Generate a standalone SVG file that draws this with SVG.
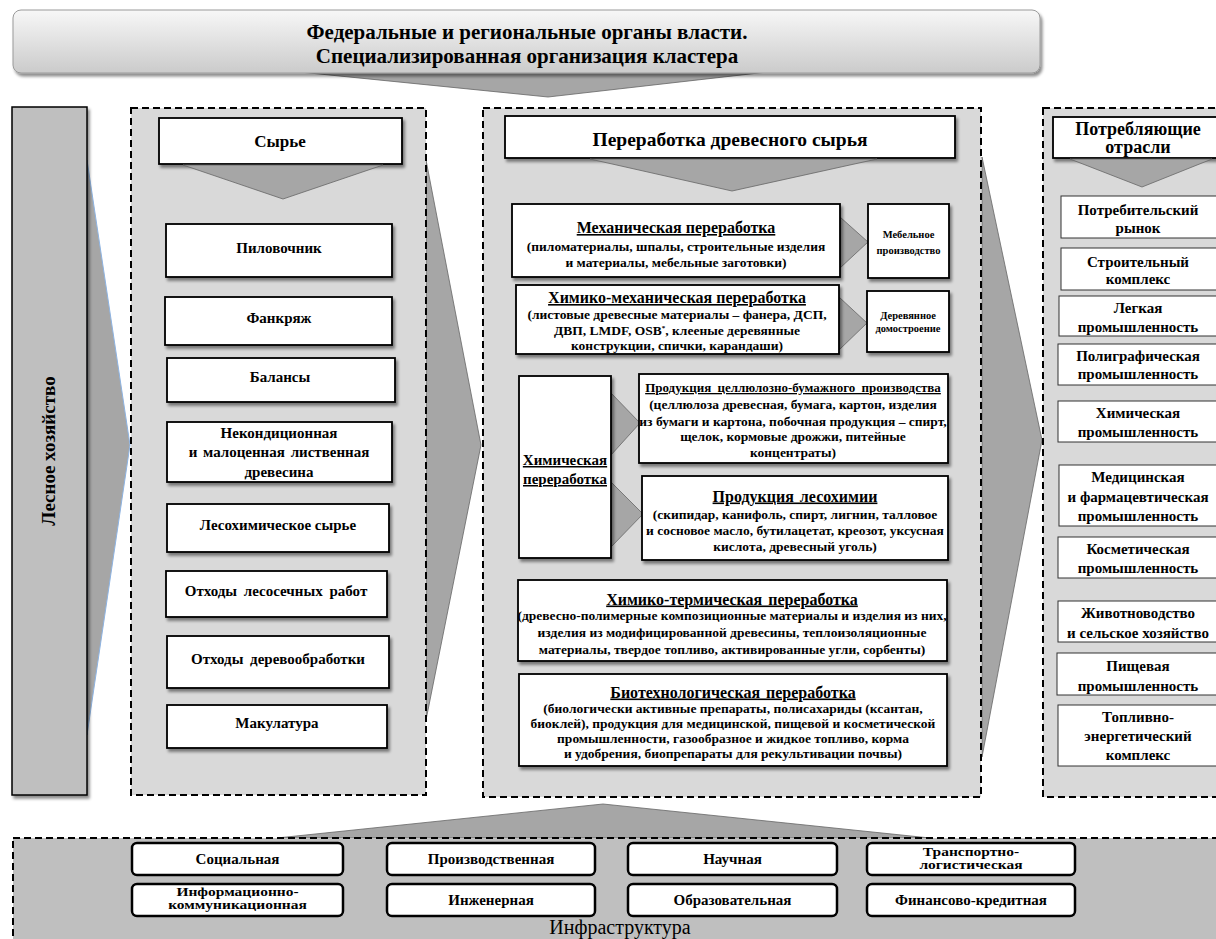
<svg xmlns="http://www.w3.org/2000/svg" width="1216" height="939" viewBox="0 0 1216 939" font-family="'Liberation Serif','Times New Roman',serif">
<defs>
<linearGradient id="hdr" x1="0" y1="0" x2="0" y2="1">
<stop offset="0" stop-color="#f7f7f7"/>
<stop offset="1" stop-color="#cbcbcb"/>
</linearGradient>
<filter id="sh" x="-10%" y="-10%" width="125%" height="130%">
<feDropShadow dx="2" dy="3" stdDeviation="1.8" flood-color="#000" flood-opacity="0.45"/>
</filter>
<style>
text{font-family:"Liberation Serif","Times New Roman",serif;font-weight:bold;text-anchor:middle;fill:#000}
.box{fill:#fff;stroke:#000;stroke-width:1.8;filter:url(#sh)}
.rbox{fill:#fff;stroke:#333;stroke-width:1}
.ibox{fill:#fff;stroke:#000;stroke-width:2.5}
.col{fill:#d9d9d9;stroke:#000;stroke-width:2;stroke-dasharray:7 4}
.tri{fill:#a6a6a6;stroke:#666;stroke-width:0.8}
.t21{font-size:21px}
.t19{font-size:19.5px}
.t18{font-size:18px}
.t17{font-size:17px}
.t16{font-size:16px}
.t15{font-size:15px}
.t12{font-size:13.5px}
.t10{font-size:10.5px}
.t2l{font-size:15.5px}
.u{text-decoration:underline}
</style>
</defs>

<!-- connectors / arrows -->
<g id="connectors">
<polygon class="tri" points="240,66 820,66 548,97"/>
<polygon points="87,160 130,445 87,735" fill="#a6a6a6" stroke="#8db3e2" stroke-width="1"/>
<polygon class="tri" points="426,160 481,445 426,720"/>
<polygon class="tri" points="982,157 1042,440 982,757"/>
<polygon class="tri" points="277,838 603,804 930,838"/>
</g>

<!-- top header -->
<g id="authorities">
<rect x="13" y="10" width="1027" height="63" rx="8" fill="url(#hdr)" stroke="#9a9a9a" stroke-width="1" filter="url(#sh)"/>
<text class="t21" x="527" y="39">Федеральные и региональные органы власти.</text>
<text class="t21" x="527" y="63">Специализированная организация кластера</text>
</g>

<!-- left bar -->
<g id="forestry">
<rect x="12" y="107" width="75" height="688" fill="#bfbfbf" stroke="#000" stroke-width="1.5" filter="url(#sh)"/>
<text font-size="19" transform="translate(55,451) rotate(-90)">Лесное хозяйство</text>
</g>

<!-- raw materials column -->
<g id="raw">
<rect class="col" x="131" y="108" width="295" height="687"/>
<rect class="box" x="159" y="118" width="243" height="46"/>
<text class="t17" x="280" y="147">Сырье</text>
<polygon class="tri" points="183,165 383,165 283,199"/>
</g>
<g id="raw-1"><rect class="box" x="166" y="224" width="226" height="53"/><text class="t15" x="279" y="253">Пиловочник</text></g>
<g id="raw-2"><rect class="box" x="165" y="297" width="227" height="48"/><text class="t15" x="279" y="323">Фанкряж</text></g>
<g id="raw-3"><rect class="box" x="167" y="358" width="228" height="44"/><text class="t15" x="280" y="382">Балансы</text></g>
<g id="raw-4"><rect class="box" x="167" y="422" width="225" height="60"/>
<text class="t15" x="279" y="438">Некондиционная</text>
<text class="t15" x="279" y="457" word-spacing="2">и малоценная лиственная</text>
<text class="t15" x="279" y="477">древесина</text></g>
<g id="raw-5"><rect class="box" x="167" y="504" width="222" height="48"/><text class="t15" x="278" y="530">Лесохимическое сырье</text></g>
<g id="raw-6"><rect class="box" x="166" y="571" width="221" height="46"/><text class="t15" x="276" y="596" word-spacing="3">Отходы лесосечных работ</text></g>
<g id="raw-7"><rect class="box" x="167" y="636" width="222" height="52"/><text class="t15" x="278" y="664" word-spacing="3">Отходы деревообработки</text></g>
<g id="raw-8"><rect class="box" x="167" y="705" width="220" height="43"/><text class="t15" x="277" y="728">Макулатура</text></g>

<!-- processing column -->
<g id="processing">
<rect class="col" x="483" y="108" width="498" height="689"/>
<rect class="box" x="505" y="116" width="450" height="42"/>
<text class="t19" x="730" y="146">Переработка древесного сырья</text>
<polygon class="tri" points="590,159 877,159 732,191"/>
</g>
<g id="conn-inner">
<polygon class="tri" points="840,217 868,242 840,268"/>
<polygon class="tri" points="839,297 867,323 839,350"/>
<polygon class="tri" points="611,393 640,423 611,455"/>
<polygon class="tri" points="611,482 643,514 611,547"/>
</g>
<g id="mech"><rect class="box" x="512" y="204" width="328" height="73"/>
<text class="t16 u" x="676" y="233">Механическая переработка</text>
<text class="t12" x="676" y="251">(пиломатериалы, шпалы, строительные изделия</text>
<text class="t12" x="676" y="267">и материалы, мебельные заготовки)</text></g>
<g id="furniture"><rect class="box" x="868" y="204" width="81" height="74"/>
<text class="t10" x="908.5" y="238">Мебельное</text>
<text class="t10" x="908.5" y="254">производство</text></g>
<g id="chemmech"><rect class="box" x="516" y="285" width="323" height="69"/>
<text class="t16 u" x="677" y="303">Химико-механическая переработка</text>
<text class="t12" x="677" y="318.5">(листовые древесные материалы – фанера, ДСП,</text>
<text class="t12" x="677" y="334.5">ДВП, LMDF, OSB<tspan font-size="7" dy="-5">*</tspan><tspan dy="5">, клееные деревянные</tspan></text>
<text class="t12" x="677" y="350">конструкции, спички, карандаши)</text></g>
<g id="housing"><rect class="box" x="867" y="291" width="82" height="61"/>
<text class="t10" x="908" y="319">Деревянное</text>
<text class="t10" x="908" y="332">домостроение</text></g>
<g id="chem"><rect class="box" x="519" y="376" width="92" height="182"/>
<text class="t15 u" x="565" y="465">Химическая</text>
<text class="t15 u" x="565" y="484">переработка</text></g>
<g id="pulp"><rect class="box" x="639" y="374" width="309" height="89"/>
<text class="u" font-size="13" x="793" y="392" word-spacing="3">Продукция целлюлозно-бумажного производства</text>
<text class="t12" x="793" y="409">(целлюлоза древесная, бумага, картон, изделия</text>
<text class="t12" x="793" y="426">из бумаги и картона, побочная продукция – спирт,</text>
<text class="t12" x="793" y="441">щелок, кормовые дрожжи, питейные</text>
<text class="t12" x="793" y="457">концентраты)</text></g>
<g id="woodchem"><rect class="box" x="642" y="476" width="306" height="84"/>
<text class="t16 u" x="795" y="501.5" word-spacing="2">Продукция лесохимии</text>
<text class="t12" x="795" y="518.5">(скипидар, канифоль, спирт, лигнин, талловое</text>
<text class="t12" x="795" y="534.5">и сосновое масло, бутилацетат,  креозот, уксусная</text>
<text class="t12" x="795" y="550.5">кислота, древесный уголь)</text></g>
<g id="chemtherm"><rect class="box" x="518" y="580" width="429" height="81"/>
<text class="t16 u" x="732" y="604.5" word-spacing="2">Химико-термическая переработка</text>
<text class="t12" x="732" y="619.5">(древесно-полимерные композиционные материалы и изделия из них,</text>
<text class="t12" x="732" y="636.5">изделия из модифицированной древесины, теплоизоляционные</text>
<text class="t12" x="732" y="653.5">материалы, твердое топливо, активированные угли, сорбенты)</text></g>
<g id="biotech"><rect class="box" x="519" y="674" width="428" height="92"/>
<text class="t16 u" x="733" y="697.5" word-spacing="2">Биотехнологическая переработка</text>
<text class="t12" x="733" y="712.5">(биологически активные препараты, полисахариды (ксантан,</text>
<text class="t12" x="733" y="727.5">биоклей), продукция для медицинской, пищевой и косметической</text>
<text class="t12" x="733" y="742.5">промышленности,  газообразное и жидкое топливо, корма</text>
<text class="t12" x="733" y="757.5">и удобрения, биопрепараты для рекультивации почвы)</text></g>

<!-- consumers column -->
<g id="consumers">
<rect class="col" x="1043" y="108" width="200" height="689"/>
<rect class="box" x="1053" y="117" width="180" height="41"/>
<text class="t18" x="1138" y="135">Потребляющие</text>
<text class="t18" x="1138" y="153">отрасли</text>
<polygon class="tri" points="1070,159 1212,159 1142,187"/>
</g>
<g id="cons-1"><rect class="rbox" x="1061" y="196" width="170" height="42"/><text class="t15" x="1138" y="215">Потребительский</text><text class="t15" x="1138" y="233">рынок</text></g>
<g id="cons-2"><rect class="rbox" x="1061" y="248" width="170" height="42"/><text class="t15" x="1138" y="267">Строительный</text><text class="t15" x="1138" y="284">комплекс</text></g>
<g id="cons-3"><rect class="rbox" x="1059" y="296" width="172" height="40"/><text class="t15" x="1138" y="313">Легкая</text><text class="t15" x="1138" y="332">промышленность</text></g>
<g id="cons-4"><rect class="rbox" x="1058" y="344" width="173" height="41"/><text class="t15" x="1138" y="361">Полиграфическая</text><text class="t15" x="1138" y="379">промышленность</text></g>
<g id="cons-5"><rect class="rbox" x="1058" y="401" width="173" height="41"/><text class="t15" x="1138" y="418">Химическая</text><text class="t15" x="1138" y="437">промышленность</text></g>
<g id="cons-6"><rect class="rbox" x="1059" y="465" width="172" height="61"/><text class="t15" x="1138" y="482">Медицинская</text><text class="t15" x="1138" y="502">и фармацевтическая</text><text class="t15" x="1138" y="521">промышленность</text></g>
<g id="cons-7"><rect class="rbox" x="1058" y="537" width="173" height="41"/><text class="t15" x="1138" y="554">Косметическая</text><text class="t15" x="1138" y="573">промышленность</text></g>
<g id="cons-8"><rect class="rbox" x="1058" y="601" width="173" height="41"/><text class="t15" x="1138" y="618">Животноводство</text><text class="t15" x="1138" y="638">и сельское хозяйство</text></g>
<g id="cons-9"><rect class="rbox" x="1057" y="653" width="174" height="42"/><text class="t15" x="1138" y="671">Пищевая</text><text class="t15" x="1138" y="691">промышленность</text></g>
<g id="cons-10"><rect class="rbox" x="1058" y="705" width="173" height="61"/><text class="t15" x="1138" y="722">Топливно-</text><text class="t15" x="1138" y="741">энергетический</text><text class="t15" x="1138" y="760">комплекс</text></g>

<!-- infrastructure -->
<g id="infrastructure">
<rect class="col" x="13" y="838" width="1215" height="110" style="fill:#bfbfbf"/>
<text x="620" y="934" font-size="20" style="font-weight:normal">Инфраструктура</text>
</g>
<g id="infra-1"><rect class="ibox" x="132" y="843" width="211" height="32" rx="5"/><text class="t15" x="237.5" y="864">Социальная</text></g>
<g id="infra-2"><rect class="ibox" x="387" y="843" width="208" height="32" rx="5"/><text class="t15" x="491" y="864">Производственная</text></g>
<g id="infra-3"><rect class="ibox" x="628" y="843" width="209" height="32" rx="5"/><text class="t15" x="732.5" y="864">Научная</text></g>
<g id="infra-4"><rect class="ibox" x="867" y="843" width="208" height="32" rx="5"/><text class="t2l" transform="translate(971,856) scale(1,0.78)">Транспортно-</text><text class="t2l" transform="translate(971,868.5) scale(1,0.78)">логистическая</text></g>
<g id="infra-5"><rect class="ibox" x="132" y="884" width="211" height="32" rx="5"/><text class="t2l" transform="translate(237.5,896) scale(1,0.78)">Информационно-</text><text class="t2l" transform="translate(237.5,908.5) scale(1,0.78)">коммуникационная</text></g>
<g id="infra-6"><rect class="ibox" x="387" y="884" width="208" height="32" rx="5"/><text class="t15" x="491" y="905">Инженерная</text></g>
<g id="infra-7"><rect class="ibox" x="628" y="884" width="209" height="32" rx="5"/><text class="t15" x="732.5" y="905">Образовательная</text></g>
<g id="infra-8"><rect class="ibox" x="867" y="884" width="208" height="32" rx="5"/><text class="t15" x="971" y="905">Финансово-кредитная</text></g>
</svg>
